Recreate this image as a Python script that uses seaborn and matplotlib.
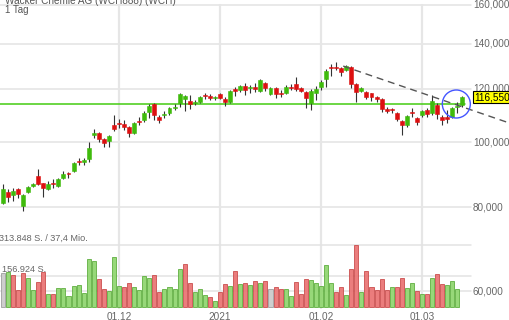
import numpy as np
import pandas as pd
import matplotlib
matplotlib.use("Agg")
import matplotlib.pyplot as plt
import matplotlib.transforms as mtransforms
from matplotlib.patches import Circle
import seaborn as sns

# ---------------- data ----------------
opens = [81.1, 84.3, 83.4, 85.1, 80.3, 84.3, 86.0, 89.0, 86.9, 85.1,
         86.9, 86.0, 88.4, 89.9, 90.5, 93.7, 93.4, 94.4, 102.4, 103.1,
         101.0, 100.3, 106.0, 106.7, 106.4, 105.3, 103.1, 107.5, 107.8, 110.8,
         113.9, 108.9, 109.7, 110.4, 112.4, 114.3, 115.9, 115.1, 114.3, 114.7,
         117.5, 117.1, 116.3, 117.9, 115.9, 114.7, 119.9, 119.5, 121.1, 120.3,
         120.7, 119.1, 122.4, 117.9, 120.3, 118.3, 118.3, 120.7, 122.0, 120.3,
         118.7, 114.3, 118.3, 120.7, 124.1, 129.3, 129.3, 128.9, 128.0, 129.3,
         122.0, 119.1, 118.7, 118.3, 116.7, 115.9, 112.0, 112.0, 110.4, 107.5,
         106.0, 110.8, 108.6, 109.7, 111.6, 110.4, 113.5, 108.9, 108.9, 108.9,
         112.7, 113.5]
highs = [86.6, 85.1, 85.4, 85.4, 83.7, 86.0, 86.9, 91.2, 86.9, 87.5,
         88.1, 88.4, 90.5, 90.2, 93.4, 94.7, 94.7, 100.0, 104.6, 103.5,
         101.4, 102.4, 109.7, 108.2, 107.8, 105.6, 107.1, 108.9, 111.2, 113.9,
         114.3, 109.7, 111.2, 112.7, 113.9, 118.3, 117.5, 117.5, 115.5, 117.1,
         118.3, 117.9, 117.1, 118.3, 116.7, 119.5, 120.7, 121.6, 122.4, 121.6,
         122.4, 124.1, 122.8, 120.7, 120.7, 119.5, 121.6, 122.0, 124.9, 120.7,
         119.1, 119.9, 121.1, 123.7, 128.4, 130.6, 131.5, 129.3, 130.2, 129.7,
         122.4, 120.7, 119.1, 118.3, 117.1, 116.3, 112.7, 112.4, 110.8, 107.8,
         109.7, 112.4, 108.9, 111.6, 112.4, 117.5, 114.3, 109.7, 111.6, 112.7,
         114.7, 117.1]
lows = [80.9, 81.4, 81.7, 82.6, 79.0, 84.0, 85.7, 86.3, 82.8, 84.8,
        85.4, 85.7, 88.1, 88.4, 90.2, 92.4, 92.4, 93.4, 101.4, 100.0,
        98.3, 98.3, 103.8, 104.9, 104.2, 101.7, 102.8, 106.0, 107.1, 108.6,
        107.8, 106.7, 108.6, 109.7, 111.6, 112.7, 111.2, 112.0, 113.5, 114.3,
        115.9, 115.5, 115.5, 115.9, 113.1, 114.3, 117.1, 118.7, 117.5, 118.3,
        118.7, 118.7, 119.1, 117.5, 116.3, 116.7, 117.9, 119.5, 119.1, 118.7,
        112.4, 111.6, 115.5, 119.5, 120.7, 125.4, 128.0, 125.4, 127.5, 120.3,
        114.7, 118.7, 115.9, 115.1, 114.7, 110.8, 110.4, 110.4, 107.5, 102.4,
        105.3, 108.9, 106.0, 108.9, 108.9, 109.7, 108.2, 106.0, 106.7, 108.6,
        110.4, 112.7]
closes = [85.1, 82.8, 84.6, 83.7, 83.4, 85.7, 86.6, 86.6, 85.4, 86.6,
          86.6, 88.1, 89.6, 89.6, 93.1, 93.4, 94.0, 98.0, 103.1, 101.0,
          99.7, 102.1, 104.6, 106.4, 105.3, 103.1, 106.7, 107.1, 110.4, 113.1,
          109.7, 107.8, 110.1, 112.4, 112.7, 117.9, 117.1, 113.9, 114.7, 116.7,
          117.1, 116.3, 116.7, 116.3, 114.7, 119.1, 119.1, 121.1, 119.5, 120.7,
          119.9, 123.7, 120.3, 120.3, 117.9, 117.9, 120.7, 120.3, 119.9, 119.1,
          116.3, 119.1, 119.9, 122.8, 127.5, 128.9, 128.7, 127.1, 129.7, 122.0,
          118.7, 120.3, 116.7, 116.7, 115.9, 112.0, 111.2, 111.4, 108.2, 106.0,
          109.3, 110.4, 107.1, 111.2, 110.1, 115.1, 110.1, 107.8, 108.2, 112.4,
          113.1, 116.55]

volumes_k = [170.6, 178.7, 162.0, 86.0, 170.6, 146.8, 86.0, 126.6, 178.7, 65.8,
             65.8, 97.7, 97.7, 57.2, 106.3, 111.4, 72.4, 243.0, 232.9, 140.2,
             89.6, 82.5, 251.6, 106.3, 102.8, 123.0, 101.2, 86.0, 156.9, 146.8,
             163.5, 74.4, 89.6, 99.7, 92.6, 190.8, 217.7, 120.0, 77.4, 92.6,
             59.2, 52.1, 30.4, 77.4, 116.4, 106.3, 180.7, 114.9, 123.0, 111.4,
             131.6, 120.0, 131.6, 91.1, 99.7, 89.6, 92.6, 55.7, 125.0, 64.3,
             141.7, 136.7, 120.0, 106.3, 211.0, 120.0, 77.4, 99.7, 60.7, 193.9,
             313.8, 77.4, 180.7, 102.8, 86.0, 143.3, 86.0, 102.8, 102.8, 145.3,
             94.7, 120.0, 82.5, 64.3, 64.3, 145.3, 165.5, 116.4, 111.4, 131.6,
             91.1]
volume_dir = list("ngrrrggrrgrggggggggrrgggrrggggrrggggrrgggrgrrgrgrgrgrnrrggrrrgggggrrgrrgrrrrrgrrggrgrgrrggg")

date_tick_idx = [23, 43, 63, 83]
date_tick_labels = ["01.12", "2021", "01.02", "01.03"]
price_ticks = [160000, 140000, 120000, 100000, 80000, 60000]
vol_max = 313848
vol_levels = [313848, 156924]
vol_labels = ["313.848 S. / 37,4 Mio.", "156.924 S."]
support_level = 113900
trend_idx = [67.4, 100.5]
trend_val = [129700, 106600]
last_price = 116550
title = "Wacker Chemie AG (WCH888) (WCH)"
subtitle = "1 Tag"

# ---------------- styling ----------------
sns.set_theme(style="white")
plt.rcParams["font.family"] = ["Liberation Sans", "DejaVu Sans"]

W, H = 510, 320
fig = plt.figure(figsize=(W / 100, H / 100), dpi=100)
ax = fig.add_axes([0, 0, 1, 1])
axv = fig.add_axes([0, 0, 1, 1])

XL = (-0.564, 100.43)
ax.set_yscale("log")

grid_c = "#e3e3e3"
xmax_frac = 471 / W

# price gridlines
for p in price_ticks:
    ax.axhline(p, xmin=0, xmax=xmax_frac, color=grid_c, lw=1.1, zorder=0)
# vertical date gridlines
for i in date_tick_idx:
    ax.axvline(i, ymin=1 - 308 / H, ymax=1 - 5 / H, color="#e6e6e6", lw=1.6, zorder=0)

# candles
o = np.array(opens) * 1000
h = np.array(highs) * 1000
l = np.array(lows) * 1000
c = np.array(closes) * 1000
x = np.arange(len(o))
up = c >= o
ax.vlines(x, l, h, color="#333333", lw=0.8, zorder=2)
bottom = np.minimum(o, c)
height = np.maximum(np.abs(c - o), bottom * 0.004)
ax.bar(x, height, bottom=bottom, width=0.78,
       color=np.where(up, "#3fbb0c", "#dd1010"),
       edgecolor=np.where(up, "#3fbb0c", "#dd1010"), lw=0.4, zorder=3)

# support line
ax.plot([XL[0], 91.6], [support_level, support_level], color="#44cc11", lw=1.1, zorder=1)
# trend line
ax.plot(trend_idx, trend_val, color="#555555", lw=1.0, ls=(0, (5, 3.5)), zorder=4)

ax.set_xlim(XL)
ax.set_ylim(54360, 162630)

# circle around the breakout
cx, cy = ax.transData.transform((89.8, support_level))
fig.patches.append(Circle((cx, cy), 14, transform=None, fill=False,
                          edgecolor="#4455ff", lw=1.0, zorder=10))

# right-hand price labels
btr = mtransforms.blended_transform_factory(ax.transAxes, ax.transData)
for p in price_ticks:
    ax.text(473 / W, p, f"{p:,}", transform=btr, ha="left", va="center",
            fontsize=7.2, color="#666666")
ax.text(474 / W, last_price, f"{last_price:,}".replace(",", ","), transform=btr,
        ha="left", va="center", fontsize=7.2, color="black", zorder=11,
        bbox=dict(boxstyle="square,pad=0.12", fc="#ffff00", ec="black", lw=0.8))

# date labels
bdt = mtransforms.blended_transform_factory(ax.transData, ax.transAxes)
for i, lab in zip(date_tick_idx, date_tick_labels):
    ax.text(i, 3.5 / H, lab, transform=bdt, ha="center", va="center",
            fontsize=7.2, color="#666666")

ax.set_axis_off()

# ---------------- volume (seaborn) ----------------
df = pd.DataFrame({"idx": np.arange(len(volumes_k)),
                   "vol": np.array(volumes_k) * 1000,
                   "dir": volume_dir})
pal = {"g": "#92d672", "r": "#ea7676", "n": "#cccccc"}
edge = {"g": "#5aab3a", "r": "#c84848", "n": "#9a9a9a"}
for lvl in vol_levels:
    axv.axhline(lvl, xmin=0, xmax=xmax_frac, color=grid_c, lw=1.1, zorder=0)
offs = mtransforms.offset_copy(axv.transData, fig=fig, x=0, y=1.5, units="points")
btv = mtransforms.blended_transform_factory(axv.transAxes, offs)
axv.text(-1 / W, vol_levels[0], vol_labels[0], transform=btv, ha="left", va="bottom",
         fontsize=6.6, color="#666666", zorder=0.5)
axv.text(2 / W, vol_levels[1], vol_labels[1], transform=btv, ha="left", va="bottom",
         fontsize=6.6, color="#666666", zorder=0.5)

sns.barplot(data=df, x="idx", y="vol", hue="dir", palette=pal, native_scale=True,
            dodge=False, width=0.8, saturation=1, errorbar=None, legend=False,
            ax=axv, zorder=2)
inv = {v: k for k, v in pal.items()}
from matplotlib.colors import to_hex
for patch in axv.patches:
    fc = to_hex(patch.get_facecolor())
    key = inv.get(fc, "n")
    patch.set_edgecolor(edge[key])
    patch.set_linewidth(0.6)
    patch.set_alpha(0.95)

axv.set_xlim(XL)
axv.set_ylim(-(H - 307) / 62 * vol_max, 307 / 62 * vol_max)
axv.patch.set_alpha(0)
axv.set_axis_off()

# title texts
fig.text(5 / W, 1 - 3.5 / H, title, ha="left", va="baseline", fontsize=7.2, color="#555555")
fig.text(5 / W, 1 - 13 / H, subtitle, ha="left", va="baseline", fontsize=7.0, color="#555555")

fig.savefig("out.png", dpi=100, facecolor="white")
